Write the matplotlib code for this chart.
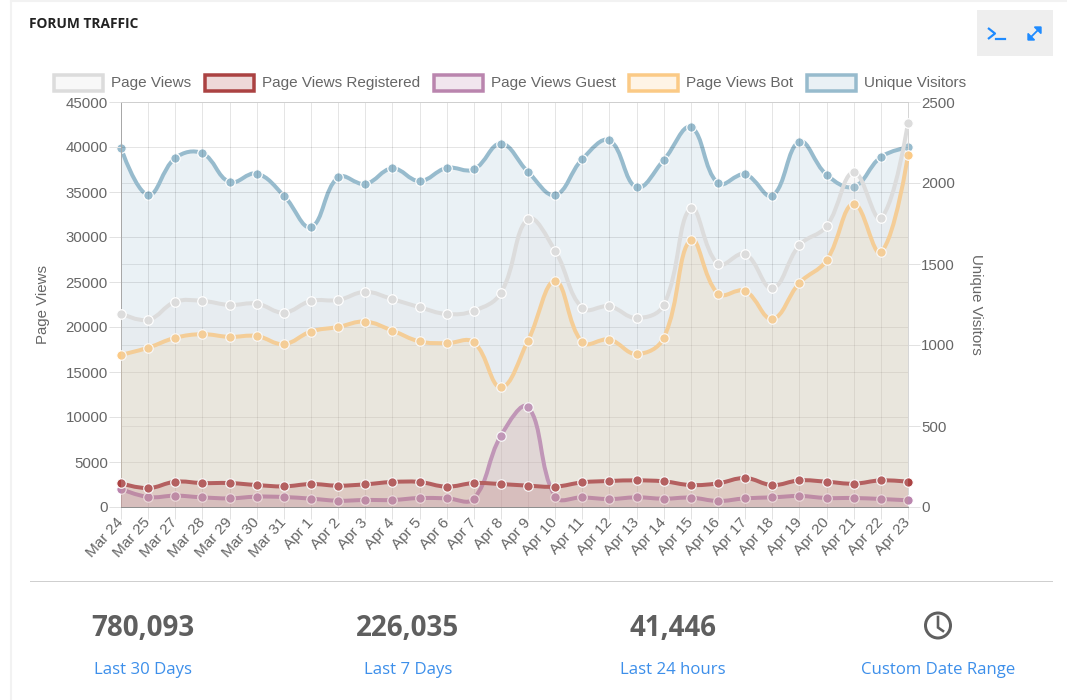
import numpy as np
import matplotlib
matplotlib.use('Agg')
import matplotlib.pyplot as plt
from matplotlib.path import Path
from matplotlib.patches import PathPatch, Rectangle, Circle
from matplotlib.transforms import ScaledTranslation

W, H = 1067, 700

labels = ['Mar 24', 'Mar 25', 'Mar 27', 'Mar 28', 'Mar 29', 'Mar 30', 'Mar 31',
          'Apr 1', 'Apr 2', 'Apr 3', 'Apr 4', 'Apr 5', 'Apr 6', 'Apr 7', 'Apr 8',
          'Apr 9', 'Apr 10', 'Apr 11', 'Apr 12', 'Apr 13', 'Apr 14', 'Apr 15',
          'Apr 16', 'Apr 17', 'Apr 18', 'Apr 19', 'Apr 20', 'Apr 21', 'Apr 22', 'Apr 23']

page_views = [21500, 20800, 22800, 22900, 22450, 22600, 21600, 22900, 23000, 23900,
              23100, 22200, 21450, 21800, 23800, 32000, 28450, 22100, 22300, 21000,
              22450, 33200, 27000, 28100, 24300, 29100, 31200, 37200, 32100, 42700]
registered = [2630, 2100, 2810, 2660, 2660, 2440, 2290, 2550, 2370, 2520,
              2780, 2780, 2260, 2660, 2550, 2370, 2260, 2740, 2890, 2960,
              2850, 2440, 2630, 3220, 2440, 2960, 2810, 2590, 2960, 2810]
guest = [2000, 1110, 1260, 1070, 960, 1150, 1110, 925, 700, 780,
         780, 1000, 960, 925, 7920, 11100, 1150, 1070, 890, 1070,
         925, 1040, 670, 960, 1070, 1220, 1000, 1000, 890, 740]
bot = [16900, 17700, 18800, 19200, 18900, 19000, 18100, 19500, 20000, 20600,
       19600, 18400, 18200, 18300, 13300, 18500, 25100, 18300, 18600, 17000,
       18800, 29700, 23700, 24000, 20900, 24900, 27400, 33700, 28300, 39100]
unique_visitors = [2216, 1926, 2154, 2183, 2006, 2058, 1922, 1728, 2035, 1994,
                   2090, 2012, 2093, 2084, 2243, 2068, 1926, 2148, 2263, 1973,
                   2142, 2344, 1998, 2053, 1922, 2255, 2051, 1977, 2160, 2221]

series_names = ['Page Views', 'Page Views Registered', 'Page Views Guest',
                'Page Views Bot', 'Unique Visitors']
series_colors = ['#dcdcdc', '#ab4242', '#ba85ae', '#fbca86', '#97bbcd']

stat_values = ['780,093', '226,035', '41,446']
stat_links = ['Last 30 Days', 'Last 7 Days', 'Last 24 hours', 'Custom Date Range']

TEXT = '#666666'
SANS = 'Liberation Sans'
OPEN = 'Open Sans'


def px(n):
    # font size in points for a size in pixels
    return n * 72 / 100


fig = plt.figure(figsize=(W / 100, H / 100), dpi=100, facecolor='white')

# page layer, one unit is one pixel
page = fig.add_axes([0, 0, 1, 1], zorder=0)
page.set_xlim(0, W)
page.set_ylim(H, 0)
page.axis('off')

# chart area
left, right, top, bottom = 121, 908, 102, 507
ax = fig.add_axes([left / W, 1 - bottom / H, (right - left) / W, (bottom - top) / H], zorder=1)
ax2 = ax.twinx()
ax.patch.set_alpha(0)
ax2.patch.set_alpha(0)

x = np.arange(len(labels))
ax.set_xlim(0, len(labels) - 1)
ax.set_ylim(0, 45000)
ax2.set_ylim(0, 2500)

ax.set_xticks(x)
ax.set_xticklabels(labels, rotation=48, ha='right', va='center', rotation_mode='anchor',
                   fontsize=px(15.3), color=TEXT, family=SANS)
# pull the slanted labels towards their ticks
shift = ScaledTranslation(2 / 100, 0, fig.dpi_scale_trans)
for t in ax.get_xticklabels():
    t.set_transform(t.get_transform() + shift)

ax.set_yticks(np.arange(0, 45001, 5000))
ax.set_yticklabels([str(v) for v in range(0, 45001, 5000)], fontsize=px(15), color=TEXT, family=SANS)
ax2.set_yticks(np.arange(0, 2501, 500))
ax2.set_yticklabels([str(v) for v in range(0, 2501, 500)], fontsize=px(15), color=TEXT, family=SANS)

ax.tick_params(axis='x', length=px(12), width=px(1), color='#e2e2e2', pad=px(1))
ax.tick_params(axis='y', length=px(12), width=px(1), color='#e2e2e2', pad=px(1))
ax2.tick_params(axis='y', length=px(12), width=px(1), color='#e2e2e2', pad=px(1))

ax.grid(True, color='black', alpha=0.1, lw=px(1))
ax2.grid(True, axis='y', color='black', alpha=0.1, lw=px(1))
ax.set_axisbelow(True)
ax2.set_axisbelow(True)

for a in (ax, ax2):
    a.spines['top'].set_color('#cfcfcf')
    a.spines['right'].set_color('#d6d6d6')
    a.spines['left'].set_color('#a8a8a8')
    a.spines['bottom'].set_color('#8f8f8f')
    for s in a.spines.values():
        s.set_linewidth(px(1))

ax.set_ylabel('Page Views', fontsize=px(15), color=TEXT, family=SANS, va='center')
ax.yaxis.set_label_coords((43 - left) / (right - left), 0.5)
ax2.set_ylabel('Unique Visitors', fontsize=px(15), color=TEXT, family=SANS, rotation=270, va='center')
ax2.yaxis.set_label_coords((976 - left) / (right - left), 0.5)


def spline_path(ax_, xs, ys, tension=0.4):
    # bezier through the points, control points weighted by pixel distance
    pts = ax_.transData.transform(np.column_stack([xs, ys]))
    verts = [pts[0]]
    codes = [Path.MOVETO]
    before, after = [], []
    for i in range(len(pts)):
        if i == 0 or i == len(pts) - 1:
            before.append(pts[i])
            after.append(pts[i])
            continue
        d01 = np.linalg.norm(pts[i] - pts[i - 1])
        d12 = np.linalg.norm(pts[i + 1] - pts[i])
        s = d01 / (d01 + d12)
        delta = pts[i + 1] - pts[i - 1]
        before.append(pts[i] - tension * s * delta)
        after.append(pts[i] + tension * (1 - s) * delta)
    for i in range(len(pts) - 1):
        verts += [after[i], before[i + 1], pts[i + 1]]
        codes += [Path.CURVE4] * 3
    return np.array(verts), codes


def draw_series(ax_, values, color, z, fill_alpha=0.2):
    verts, codes = spline_path(ax_, x, values)
    base = ax_.transData.transform([[x[-1], 0], [x[0], 0]])
    fill_verts = np.vstack([verts, base, verts[0]])
    fill_codes = codes + [Path.LINETO, Path.LINETO, Path.CLOSEPOLY]
    ax_.add_patch(PathPatch(Path(fill_verts, fill_codes), transform=None, facecolor=color,
                            edgecolor='none', alpha=fill_alpha, zorder=z, clip_on=True,
                            clip_path=ax_.patch))
    ax_.add_patch(PathPatch(Path(verts, codes), transform=None, facecolor='none', edgecolor=color,
                            lw=px(4), zorder=z + 0.1, clip_on=False))
    ax_.plot(x, values, 'o', ms=px(9.5), mfc=color, mec='white', mew=px(1.2), zorder=z + 0.2,
             clip_on=False)


# back to front, the visitors series lies at the bottom
ax.set_zorder(2)
ax2.set_zorder(1)
draw_series(ax2, unique_visitors, series_colors[4], 2)
draw_series(ax, bot, series_colors[3], 3)
draw_series(ax, guest, series_colors[2], 4)
draw_series(ax, registered, series_colors[1], 5)
draw_series(ax, page_views, series_colors[0], 6)

# legend row
legend_x = [52, 203, 432, 627, 805]
for lx, name, c in zip(legend_x, series_names, series_colors):
    page.add_patch(Rectangle((lx + 1.5, 75), 49, 16, facecolor=c + '33', edgecolor=c, lw=px(3.5)))
    page.text(lx + 59, 83, name, fontsize=px(15.2), color=TEXT, family=SANS, va='center', ha='left')

# card edges
page.plot([11, 11], [1, H], color='#f2f2f2', lw=1.5)
page.plot([11, W], [1, 1], color='#f2f2f2', lw=1.5)

page.text(29, 24, 'FORUM TRAFFIC', fontsize=px(13.8), fontweight='bold', color='#222222',
          family=OPEN, va='center', ha='left')

# toolbar at the top right
page.add_patch(Rectangle((977, 10), 76, 46, facecolor='#eeeeee', edgecolor='none'))
BLUE = '#1f8bff'
page.plot([988, 995, 988], [28, 33.5, 39], color=BLUE, lw=px(2.2), solid_capstyle='butt')
page.plot([996, 1005], [38.5, 38.5], color=BLUE, lw=px(2.2))
page.plot([1031, 1038], [37, 30], color=BLUE, lw=px(1.8))
page.add_patch(plt.Polygon([[1028, 40], [1028, 33.5], [1034.5, 40]], color=BLUE))
page.add_patch(plt.Polygon([[1041, 27], [1041, 33.5], [1034.5, 27]], color=BLUE))

# footer with the totals
page.plot([30, 1052], [581, 581], color='#cfcfcf', lw=px(1))
stat_x = [143, 408, 673, 938]
DARK = '#5f5f5f'
LINK = '#3d8fea'
for sx, val in zip(stat_x, stat_values):
    page.text(sx, 628, val, fontsize=px(27.7), fontweight='bold', color=DARK, family=OPEN,
              ha='center', va='center')
for sx, link in zip(stat_x, stat_links):
    page.text(sx, 670, link, fontsize=px(16.8), color=LINK, family=OPEN, ha='center', va='center')

# clock icon
page.add_patch(Circle((938, 625.5), 12.5, facecolor='none', edgecolor=DARK, lw=px(3)))
page.plot([938, 938, 943], [617, 627.5, 631], color=DARK, lw=px(2.6), solid_joinstyle='miter')

fig.savefig('out.png', dpi=100)
